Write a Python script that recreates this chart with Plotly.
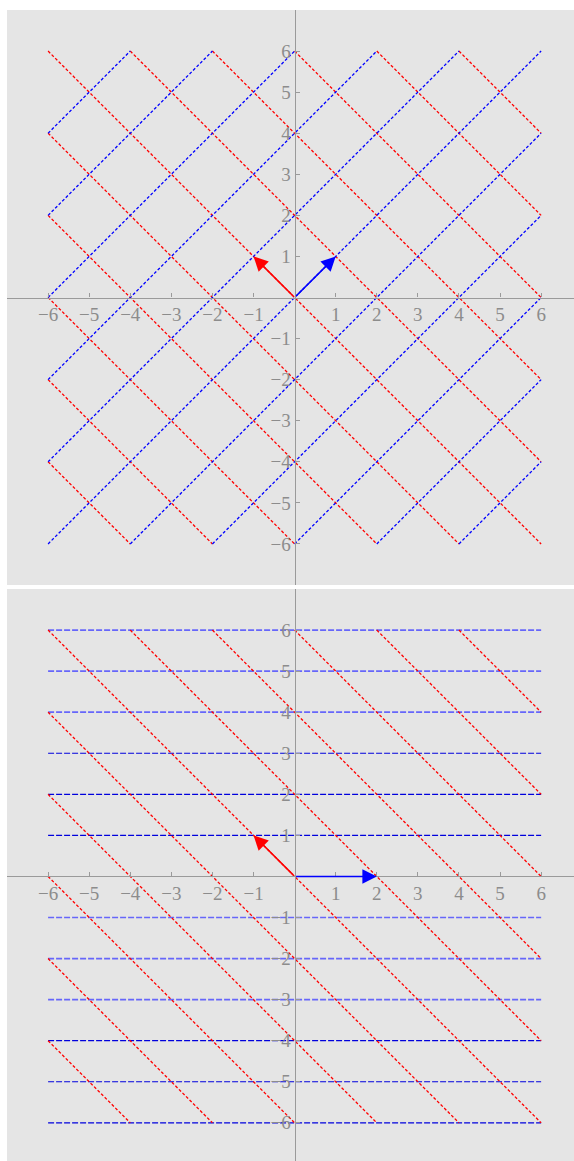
import plotly.graph_objects as go

# Offsets c of the lattice lines y = x + c and y = -x + c
diag_offsets = [-10, -8, -6, -4, -2, 0, 2, 4, 6, 8, 10]
# Horizontal lattice lines y = k in the lower panel
level_values = [-6, -5, -4, -3, -2, -1, 1, 2, 3, 4, 5, 6]
# Levels whose dashes look denser / lighter
light_levels = [6, 5, 4, -1, -2, -3]
tick_values = [-6, -5, -4, -3, -2, -1, 1, 2, 3, 4, 5, 6]

# Basis vectors drawn as arrows
top_u = (1, 1)
top_v = (-1, 1)
bottom_u = (2, 0)
bottom_v = (-1, 1)

BOUND = 6
W, H = 574, 1161
BG = "#e5e5e5"
AXIS_GRAY = "#9a9a9a"
LABEL_GRAY = "#8c8c8c"
BLUE = "#0000ff"
RED = "#ff0000"

# panel geometry in pixels
X_PIX = (7, 574)
TOP_PIX = (10, 585)
BOT_PIX = (589, 1161)
X_RANGE = [-7.0, 6.8]
TOP_RANGE = [-7.0, 7.0]
BOT_RANGE = [-6.93, 7.0]


def rising(c):
    x0, x1 = max(-BOUND, -BOUND - c), min(BOUND, BOUND - c)
    return [x0, x1], [x0 + c, x1 + c]


def falling(c):
    x0, x1 = max(-BOUND, c - BOUND), min(BOUND, c + BOUND)
    return [x0, x1], [c - x0, c - x1]


def joined(segs):
    xs, ys = [], []
    for sx, sy in segs:
        xs += sx + [None]
        ys += sy + [None]
    return xs, ys


def dashed(xs, ys, color, dash, width, xa, ya):
    return go.Scatter(x=xs, y=ys, mode="lines", xaxis=xa, yaxis=ya,
                      line=dict(color=color, width=width, dash=dash),
                      hoverinfo="skip", showlegend=False)


fig = go.Figure()

# upper panel: two families of diagonals
bx, by = joined([rising(c) for c in diag_offsets])
rx, ry = joined([falling(c) for c in diag_offsets])
fig.add_trace(dashed(rx, ry, RED, "3px,2px", 1.3, "x", "y"))
fig.add_trace(dashed(bx, by, BLUE, "3px,2px", 1.3, "x", "y"))

# lower panel: horizontals and falling diagonals
for k in level_values:
    if k in light_levels:
        fig.add_trace(dashed([-BOUND, BOUND], [k, k], "rgba(70,70,255,0.8)",
                             "6px,2px", 1.7, "x2", "y2"))
    else:
        fig.add_trace(dashed([-BOUND, BOUND], [k, k], "#0000dd",
                             "6px,2px", 1.2, "x2", "y2"))
fig.add_trace(dashed(rx, ry, RED, "3px,2px", 1.3, "x2", "y2"))


def arrow(vec, color, xr, yr):
    return dict(x=vec[0], y=vec[1], ax=0, ay=0, xref=xr, yref=yr,
                axref=xr, ayref=yr, text="", showarrow=True,
                arrowhead=2, arrowsize=1.8, arrowwidth=1.6,
                arrowcolor=color)


annotations = [
    arrow(top_u, BLUE, "x", "y"),
    arrow(top_v, RED, "x", "y"),
    arrow(bottom_u, BLUE, "x2", "y2"),
    arrow(bottom_v, RED, "x2", "y2"),
]


def frac(v, rng, dom):
    return dom[0] + (v - rng[0]) / (rng[1] - rng[0]) * (dom[1] - dom[0])


x_dom = [X_PIX[0] / W, X_PIX[1] / W]
top_dom = [1 - TOP_PIX[1] / H, 1 - TOP_PIX[0] / H]
bot_dom = [1 - BOT_PIX[1] / H, 1 - BOT_PIX[0] / H]
x_zero = frac(0, X_RANGE, x_dom)

tick_font = dict(family="Liberation Serif, Times New Roman, serif",
                 size=19, color=LABEL_GRAY)
common = dict(showgrid=False, zeroline=False, showline=True,
              linecolor=AXIS_GRAY, linewidth=1.2, ticks="inside",
              ticklen=4, tickwidth=1.2, tickcolor=AXIS_GRAY,
              tickvals=tick_values, tickfont=tick_font,
              anchor="free", fixedrange=True)

fig.update_layout(
    width=W, height=H,
    margin=dict(l=0, r=0, t=0, b=0),
    paper_bgcolor="white",
    plot_bgcolor=BG,
    showlegend=False,
    annotations=annotations,
    xaxis=dict(domain=x_dom, range=X_RANGE,
               position=frac(0, TOP_RANGE, top_dom), **common),
    yaxis=dict(domain=top_dom, range=TOP_RANGE, position=x_zero, **common),
    xaxis2=dict(domain=x_dom, range=X_RANGE,
                position=frac(0, BOT_RANGE, bot_dom), **common),
    yaxis2=dict(domain=bot_dom, range=BOT_RANGE, position=x_zero, **common),
)

fig.write_html("out.html")
